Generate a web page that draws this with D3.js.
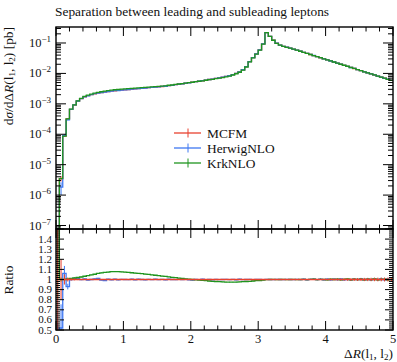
<!DOCTYPE html>
<html><head><meta charset="utf-8">
<script src="https://cdn.jsdelivr.net/npm/d3@7"></script>
<style>
body{margin:0;background:#fff}
text{font-family:"Liberation Serif","DejaVu Serif",serif;fill:#111}
</style></head>
<body><svg id="c" width="397" height="362"></svg>
<script>
// ---------- DATA ----------
const title = "Separation between leading and subleading leptons";
const seriesNames = ["MCFM", "HerwigNLO", "KrkNLO"];
const binWidth = 0.05;
const binLow = [
0.00,0.05,0.10,0.15,0.20,0.25,0.30,0.35,0.40,0.45,
0.50,0.55,0.60,0.65,0.70,0.75,0.80,0.85,0.90,0.95,
1.00,1.05,1.10,1.15,1.20,1.25,1.30,1.35,1.40,1.45,
1.50,1.55,1.60,1.65,1.70,1.75,1.80,1.85,1.90,1.95,
2.00,2.05,2.10,2.15,2.20,2.25,2.30,2.35,2.40,2.45,
2.50,2.55,2.60,2.65,2.70,2.75,2.80,2.85,2.90,2.95,
3.00,3.05,3.10,3.15,3.20,3.25,3.30,3.35,3.40,3.45,
3.50,3.55,3.60,3.65,3.70,3.75,3.80,3.85,3.90,3.95,
4.00,4.05,4.10,4.15,4.20,4.25,4.30,4.35,4.40,4.45,
4.50,4.55,4.60,4.65,4.70,4.75,4.80,4.85,4.90,4.95];
// MCFM dsigma/dDeltaR [pb]
const mcfm = [
3e-8,3.5e-6,8.7e-5,3.2e-4,6.6e-4,9.1e-4,1.23e-3,1.48e-3,1.70e-3,1.86e-3,
2.0e-3,2.14e-3,2.24e-3,2.34e-3,2.45e-3,2.54e-3,2.63e-3,2.69e-3,2.75e-3,2.82e-3,
2.88e-3,2.95e-3,3.02e-3,3.09e-3,3.16e-3,3.24e-3,3.31e-3,3.39e-3,3.47e-3,3.55e-3,
3.63e-3,3.72e-3,3.80e-3,3.98e-3,4.07e-3,4.27e-3,4.42e-3,4.57e-3,4.79e-3,4.95e-3,
5.13e-3,5.37e-3,5.56e-3,5.75e-3,6.03e-3,6.31e-3,6.53e-3,6.84e-3,7.16e-3,7.5e-3,
7.94e-3,8.41e-3,9.1e-3,1.0e-2,1.12e-2,1.32e-2,1.66e-2,2.45e-2,3.3e-2,4.37e-2,
5.9e-2,9.3e-2,0.219,0.166,0.123,0.098,0.085,0.0776,0.0724,0.0676,
0.0631,0.0581,0.0536,0.0494,0.0455,0.0419,0.0386,0.0356,0.0328,0.0302,
0.0279,0.0257,0.0237,0.0218,0.0201,0.0185,0.0171,0.0157,0.0145,0.0134,
0.0123,0.0113,0.01045,0.00963,0.00887,0.00818,0.00753,0.00694,0.00640,0.00589];
// HerwigNLO / MCFM
const herwigRatio = [
0.3,0.52,1.06,0.93,1.0,1.01,1.008,0.998,1.005,0.993,
1.0,1.006,1.012,0.995,0.99,1.003,0.997,1.004,0.996,1.002,
1.0,0.998,1.004,0.997,1.003,1.0,0.996,1.002,0.999,1.003,
0.998,1.001,0.997,1.003,1.0,0.998,1.002,0.999,1.001,0.997,
0.993,1.002,0.999,1.003,0.998,1.001,0.997,1.002,0.999,1.0,
1.002,0.998,1.001,0.997,1.003,0.999,1.0,1.002,0.998,1.001,
1.0,0.999,1.001,1.0,0.999,1.002,1.0,0.998,1.001,1.0,
0.999,1.002,0.998,1.003,0.997,1.002,1.004,0.998,1.003,0.997,
1.004,0.996,1.003,0.998,1.005,0.997,1.002,0.996,1.004,0.998,
1.005,0.996,1.003,0.997,1.004,0.998,1.005,0.996,1.003,0.998];
// KrkNLO / MCFM
const krkRatio = [
1.6,1.0,1.0,1.005,1.01,1.015,1.02,1.025,1.032,1.038,
1.045,1.052,1.06,1.066,1.07,1.074,1.077,1.078,1.077,1.075,
1.073,1.07,1.067,1.064,1.061,1.058,1.054,1.05,1.046,1.042,
1.038,1.034,1.03,1.026,1.022,1.018,1.014,1.01,1.006,1.003,
1.0,0.997,0.994,0.991,0.988,0.985,0.982,0.98,0.978,0.976,
0.975,0.974,0.974,0.975,0.976,0.978,0.98,0.982,0.985,0.988,
0.99,0.994,0.998,1.0,1.001,0.999,1.0,1.002,0.999,1.0,
1.001,0.999,1.0,1.002,0.998,1.001,1.003,0.998,1.002,1.0,
0.997,1.003,1.0,1.004,0.996,1.002,1.005,0.997,1.003,0.999,
1.004,0.996,1.003,0.998,1.005,0.997,1.002,1.004,0.996,1.002];
// relative statistical errors
const mcfmErr = [
0.5,0.2,0.05,0.02,0.01,0.008,0.006,0.005,0.004,0.004,
0.003,0.003,0.003,0.003,0.003,0.003,0.003,0.003,0.003,0.003,
0.003,0.003,0.003,0.003,0.003,0.003,0.003,0.003,0.003,0.003,
0.003,0.003,0.003,0.003,0.003,0.003,0.003,0.003,0.003,0.003,
0.003,0.003,0.003,0.003,0.003,0.003,0.003,0.003,0.003,0.003,
0.003,0.003,0.003,0.003,0.003,0.003,0.003,0.003,0.003,0.003,
0.003,0.003,0.003,0.003,0.003,0.003,0.003,0.003,0.003,0.003,
0.003,0.003,0.003,0.003,0.004,0.004,0.004,0.005,0.005,0.005,
0.006,0.007,0.008,0.009,0.010,0.011,0.012,0.013,0.014,0.015,
0.015,0.016,0.016,0.017,0.017,0.018,0.018,0.019,0.019,0.020];
const herwigErr = [
0.9,0.45,0.07,0.03,0.01,0.008,0.006,0.005,0.004,0.004,
0.004,0.004,0.004,0.004,0.004,0.004,0.004,0.004,0.004,0.004,
0.004,0.004,0.004,0.004,0.004,0.004,0.004,0.004,0.004,0.004,
0.004,0.004,0.004,0.004,0.004,0.004,0.004,0.004,0.004,0.004,
0.004,0.004,0.004,0.004,0.004,0.004,0.004,0.004,0.004,0.004,
0.004,0.004,0.004,0.004,0.004,0.004,0.004,0.004,0.004,0.004,
0.004,0.004,0.004,0.004,0.004,0.004,0.004,0.004,0.004,0.004,
0.004,0.004,0.005,0.005,0.006,0.006,0.006,0.007,0.007,0.007,
0.008,0.008,0.008,0.009,0.009,0.009,0.010,0.010,0.010,0.011,
0.011,0.011,0.012,0.012,0.012,0.012,0.013,0.013,0.013,0.013];
const krkErr = [
0.5,0.02,0.01,0.006,0.005,0.004,0.004,0.004,0.003,0.003,
0.003,0.003,0.003,0.003,0.003,0.003,0.003,0.003,0.003,0.003,
0.003,0.003,0.003,0.003,0.003,0.003,0.003,0.003,0.003,0.003,
0.003,0.003,0.003,0.003,0.003,0.003,0.003,0.003,0.003,0.003,
0.003,0.003,0.003,0.003,0.003,0.003,0.003,0.003,0.003,0.003,
0.003,0.003,0.003,0.003,0.003,0.003,0.003,0.003,0.003,0.003,
0.003,0.003,0.003,0.003,0.003,0.003,0.003,0.003,0.003,0.003,
0.003,0.003,0.004,0.004,0.005,0.005,0.005,0.006,0.006,0.006,
0.007,0.007,0.007,0.008,0.008,0.008,0.009,0.009,0.009,0.010,
0.010,0.010,0.011,0.011,0.011,0.011,0.012,0.012,0.012,0.012];
const xTicks = [0,1,2,3,4,5];
const yTicksExp = [-1,-2,-3,-4,-5,-6,-7];
const ratioTicks = [1.4,1.3,1.2,1.1,1,0.9,0.8,0.7,0.6,0.5];

// ---------- LAYOUT ----------
const L = 56, R = 393, T = 27, M = 229, B = 330;
const colors = {MCFM:"#e8412f", HerwigNLO:"#3f78f2", KrkNLO:"#1f951f"};

const svg = d3.select("#c");
svg.append("rect").attr("width",397).attr("height",362).attr("fill","#fff");

const x = d3.scaleLinear().domain([0,5]).range([L,R]);
const y = d3.scaleLog().domain([Math.pow(10,-7.115), Math.pow(10,-0.474)]).range([M,T]);
const yr = d3.scaleLinear().domain([0.5,1.5]).range([B,M]);

const defs = svg.append("defs");
defs.append("clipPath").attr("id","cm").append("rect").attr("x",L).attr("y",T).attr("width",R-L).attr("height",M-T);
defs.append("clipPath").attr("id","cr").append("rect").attr("x",L).attr("y",M).attr("width",R-L).attr("height",B-M);

const herwig = mcfm.map((v,i)=>v*herwigRatio[i]);
const krk = mcfm.map((v,i)=>v*krkRatio[i]);
const mainSeries = [
  {name:"MCFM", vals:mcfm, err:mcfmErr},
  {name:"HerwigNLO", vals:herwig, err:herwigErr},
  {name:"KrkNLO", vals:krk, err:krkErr}];
const ratioSeries = [
  {name:"HerwigNLO", vals:herwigRatio, err:herwigErr},
  {name:"KrkNLO", vals:krkRatio, err:krkErr},
  {name:"MCFM", vals:mcfm.map(()=>1), err:mcfmErr}];

function stepPts(vals){
  const pts = vals.map((v,i)=>[binLow[i], v]);
  pts.push([binLow[binLow.length-1]+binWidth, vals[vals.length-1]]);
  return pts;
}

function drawHist(g, ys, s, lo, hi){
  const line = d3.line().curve(d3.curveStepAfter)
    .x(d=>x(d[0])).y(d=>ys(Math.min(Math.max(d[1],lo),hi)));
  g.append("path").attr("d", line(stepPts(s.vals))).attr("fill","none")
    .attr("stroke", colors[s.name]).attr("stroke-width",1.3);
  g.selectAll(null).data(s.vals).enter().append("line")
    .attr("x1",(d,i)=>x(binLow[i]+binWidth/2)).attr("x2",(d,i)=>x(binLow[i]+binWidth/2))
    .attr("y1",(d,i)=>ys(Math.min(Math.max(d*(1-s.err[i]),lo),hi)))
    .attr("y2",(d,i)=>ys(Math.min(Math.max(d*(1+s.err[i]),lo),hi)))
    .attr("stroke", colors[s.name]).attr("stroke-width",1);
}

const gm = svg.append("g").attr("clip-path","url(#cm)");
mainSeries.forEach(s=>drawHist(gm, y, s, 1e-9, 10));
const gr = svg.append("g").attr("clip-path","url(#cr)");
ratioSeries.forEach(s=>drawHist(gr, yr, s, 0.3, 1.7));

// ---------- AXES / TICKS ----------
const ax = svg.append("g").attr("stroke","#000");
function tick(x1,y1,x2,y2,w){ ax.append("line").attr("x1",x1).attr("y1",y1).attr("x2",x2).attr("y2",y2).attr("stroke-width",w||1); }

const xMinor = d3.range(0,5.0001,0.2);
[[T,M],[M,B]].forEach(([top,bot])=>{
  xMinor.forEach(v=>{
    const major = Math.abs(v-Math.round(v))<1e-6;
    const len = major?9:4.5;
    tick(x(v),top,x(v),top+len);
    tick(x(v),bot,x(v),bot-len);
  });
});
for(let e=-8;e<=0;e++){
  for(let k=1;k<=9;k++){
    const v = k*Math.pow(10,e);
    if(v<y.domain()[0]||v>y.domain()[1]) continue;
    const len = k===1?10:5;
    tick(L,y(v),L+len,y(v));
    tick(R,y(v),R-len,y(v));
  }
}
d3.range(0.5,1.5001,0.02).forEach(v=>{
  const major = Math.abs(v*10-Math.round(v*10))<1e-6;
  const len = major?8:4;
  tick(L,yr(v),L+len,yr(v));
  tick(R,yr(v),R-len,yr(v));
});
[[T,M],[M,B]].forEach(([top,bot])=>{
  svg.append("rect").attr("x",L).attr("y",top).attr("width",R-L).attr("height",bot-top)
    .attr("fill","none").attr("stroke","#000").attr("stroke-width",1.4);
});

// tick labels
yTicksExp.forEach(e=>{
  const t = svg.append("text").attr("x",51).attr("y",y(Math.pow(10,e))+4)
    .attr("text-anchor","end").attr("font-size",12.5);
  t.append("tspan").text("10");
  t.append("tspan").attr("font-size",9).attr("dy",-5).text("\u2212"+(-e));
});
ratioTicks.forEach(v=>{
  svg.append("text").attr("x",52).attr("y",yr(v)+3.5).attr("text-anchor","end")
    .attr("font-size",11).text(v===1?"1":v.toFixed(1));
});
xTicks.forEach(v=>{
  svg.append("text").attr("x",x(v)).attr("y",343).attr("text-anchor","middle")
    .attr("font-size",12.5).text(v);
});

// title
svg.append("text").attr("x",55).attr("y",16).attr("font-size",13.4).text(title);

// axis titles
const yl = svg.append("text").attr("transform","translate(13,27) rotate(-90)")
  .attr("text-anchor","end").attr("font-size",13.4);
yl.append("tspan").text("d");
yl.append("tspan").attr("font-style","italic").text("\u03c3");
yl.append("tspan").text("/d\u0394");
yl.append("tspan").attr("font-style","italic").text("R");
yl.append("tspan").text("(l");
yl.append("tspan").attr("font-size",9).attr("dy",2).text("1");
yl.append("tspan").attr("dy",-2).text(", l");
yl.append("tspan").attr("font-size",9).attr("dy",2).text("2");
yl.append("tspan").attr("dy",-2).text(") [pb]");

svg.append("text").attr("transform","translate(13,280) rotate(-90)")
  .attr("text-anchor","middle").attr("font-size",13.4).text("Ratio");

const xl = svg.append("text").attr("x",393).attr("y",358).attr("text-anchor","end").attr("font-size",13.4);
xl.append("tspan").text("\u0394");
xl.append("tspan").attr("font-style","italic").text("R");
xl.append("tspan").text("(l");
xl.append("tspan").attr("font-size",9).attr("dy",2).text("1");
xl.append("tspan").attr("dy",-2).text(", l");
xl.append("tspan").attr("font-size",9).attr("dy",2).text("2");
xl.append("tspan").attr("dy",-2).text(")");

// legend
seriesNames.forEach((n,i)=>{
  const yy = 133 + i*15;
  const g = svg.append("g");
  g.append("line").attr("x1",174).attr("x2",201).attr("y1",yy).attr("y2",yy).attr("stroke",colors[n]).attr("stroke-width",1.3);
  g.append("line").attr("x1",188).attr("x2",188).attr("y1",yy-4.5).attr("y2",yy+4.5).attr("stroke",colors[n]).attr("stroke-width",1);
  g.append("text").attr("x",207).attr("y",yy+4.5).attr("font-size",13.4).text(n);
});
</script></body></html>
